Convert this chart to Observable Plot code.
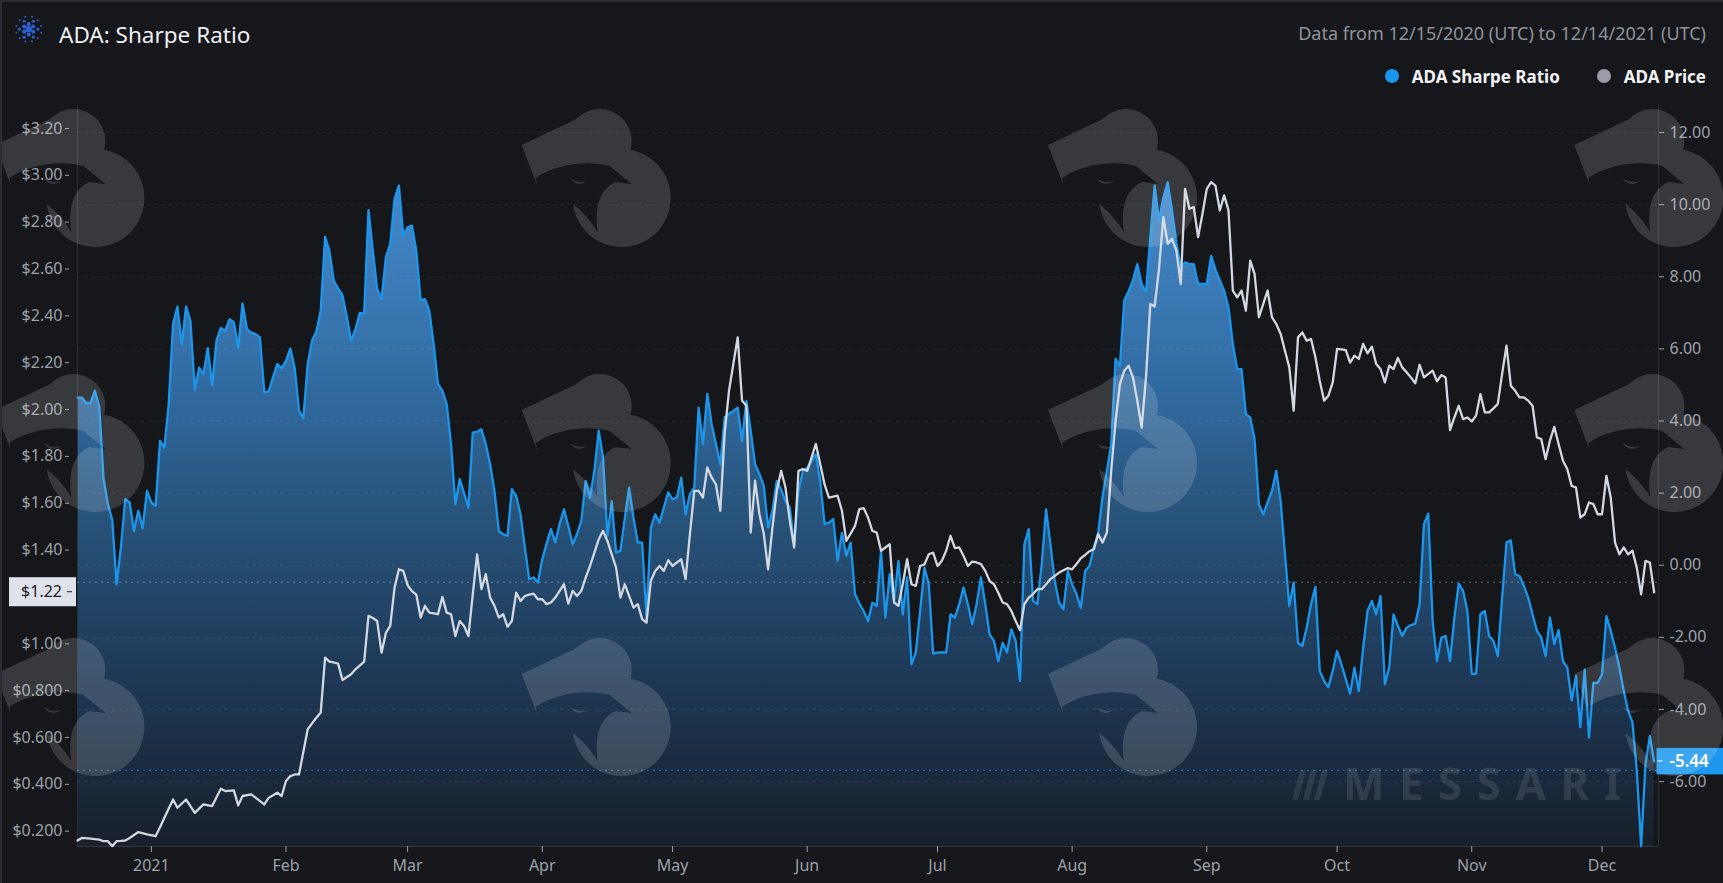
<!DOCTYPE html>
<html>
<head>
<meta charset="utf-8">
<script src="https://cdn.jsdelivr.net/npm/d3@7"></script>
<script src="https://cdn.jsdelivr.net/npm/@observablehq/plot@0.6"></script>
<style>
  html, body { margin:0; padding:0; background:#16171b; }
  #wrap { position:relative; width:1723px; height:883px; overflow:hidden; background:#16171b; font-family:"Noto Sans", sans-serif; }
  #edge { position:absolute; left:0; top:0; width:1723px; height:883px; box-sizing:border-box; border-top:2px solid #2b2d33; border-left:2px solid #2b2d33; pointer-events:none; }
  #header { position:relative; height:100px; }
  #icon { position:absolute; left:0; top:0; }
  #title { position:absolute; left:59px; top:21px; font-size:22.5px; line-height:28px; color:#eef0f4; white-space:nowrap; }
  #range { position:absolute; right:17px; top:22px; font-size:18px; line-height:22px; color:#8f939c; white-space:nowrap; }
  #legend { position:absolute; right:17px; top:64px; height:24px; display:flex; align-items:center; font-size:17px; font-weight:700; color:#f2f3f6; white-space:nowrap; }
  .item { display:flex; align-items:center; }
  .item + .item { margin-left:37px; }
  .dot { width:14px; height:14px; border-radius:50%; display:inline-block; margin-right:13px; }
  #chart { position:relative; height:783px; }
  #wm { position:absolute; left:0; top:0; pointer-events:none; }
</style>
</head>
<body>
<div id="wrap">
  <div id="header">
    <svg id="icon" width="60" height="60"></svg>
    <div id="title">ADA: Sharpe Ratio</div>
    <div id="range">Data from 12/15/2020 (UTC) to 12/14/2021 (UTC)</div>
    <div id="legend">
      <div class="item"><span class="dot" style="background:#1a96ec"></span>ADA Sharpe Ratio</div>
      <div class="item"><span class="dot" style="background:#9a9ca8"></span>ADA Price</div>
    </div>
  </div>
  <div id="chart"></div>
  <svg id="wm" width="1723" height="883"></svg>
  <div id="edge"></div>
</div>
<script>
// ---------------- data ----------------
const sharpeDates = [
"2020-12-15","2020-12-16","2020-12-17","2020-12-18","2020-12-19","2020-12-20","2020-12-21","2020-12-22","2020-12-23","2020-12-24","2020-12-25","2020-12-26","2020-12-27","2020-12-28","2020-12-29","2020-12-30","2020-12-31",
"2021-01-01","2021-01-02","2021-01-03","2021-01-04","2021-01-05","2021-01-06","2021-01-07","2021-01-08","2021-01-09","2021-01-10","2021-01-11","2021-01-12","2021-01-13","2021-01-14","2021-01-15","2021-01-16","2021-01-17","2021-01-18","2021-01-19","2021-01-20","2021-01-21","2021-01-22","2021-01-23","2021-01-24","2021-01-25","2021-01-26","2021-01-27","2021-01-28","2021-01-29","2021-01-30","2021-01-31",
"2021-02-01","2021-02-02","2021-02-03","2021-02-04","2021-02-05","2021-02-06","2021-02-07","2021-02-08","2021-02-09","2021-02-10","2021-02-11","2021-02-12","2021-02-13","2021-02-14","2021-02-15","2021-02-16","2021-02-17","2021-02-18","2021-02-19","2021-02-20","2021-02-21","2021-02-22","2021-02-23","2021-02-24","2021-02-25","2021-02-26","2021-02-27","2021-02-28",
"2021-03-01","2021-03-02","2021-03-03","2021-03-04","2021-03-05","2021-03-06","2021-03-07","2021-03-08","2021-03-09","2021-03-10","2021-03-11","2021-03-12","2021-03-13","2021-03-14","2021-03-15","2021-03-16","2021-03-17","2021-03-18","2021-03-19","2021-03-20","2021-03-21","2021-03-22","2021-03-23","2021-03-24","2021-03-25","2021-03-26","2021-03-27","2021-03-28","2021-03-29","2021-03-30","2021-03-31",
"2021-04-01","2021-04-02","2021-04-03","2021-04-04","2021-04-05","2021-04-06","2021-04-07","2021-04-08","2021-04-09","2021-04-10","2021-04-11","2021-04-12","2021-04-13","2021-04-14","2021-04-15","2021-04-16","2021-04-17","2021-04-18","2021-04-19","2021-04-20","2021-04-21","2021-04-22","2021-04-23","2021-04-24","2021-04-25","2021-04-26","2021-04-27","2021-04-28","2021-04-29","2021-04-30",
"2021-05-01","2021-05-02","2021-05-03","2021-05-04","2021-05-05","2021-05-06","2021-05-07","2021-05-08","2021-05-09","2021-05-10","2021-05-11","2021-05-12","2021-05-13","2021-05-14","2021-05-15","2021-05-16","2021-05-17","2021-05-18","2021-05-19","2021-05-20","2021-05-21","2021-05-22","2021-05-23","2021-05-24","2021-05-25","2021-05-26","2021-05-27","2021-05-28","2021-05-29","2021-05-30","2021-05-31",
"2021-06-01","2021-06-02","2021-06-03","2021-06-04","2021-06-05","2021-06-06","2021-06-07","2021-06-08","2021-06-09","2021-06-10","2021-06-11","2021-06-12","2021-06-13","2021-06-14","2021-06-15","2021-06-16","2021-06-17","2021-06-18","2021-06-19","2021-06-20","2021-06-21","2021-06-22","2021-06-23","2021-06-24","2021-06-25","2021-06-26","2021-06-27","2021-06-28","2021-06-29","2021-06-30",
"2021-07-01","2021-07-02","2021-07-03","2021-07-04","2021-07-05","2021-07-06","2021-07-07","2021-07-08","2021-07-09","2021-07-10","2021-07-11","2021-07-12","2021-07-13","2021-07-14","2021-07-15","2021-07-16","2021-07-17","2021-07-18","2021-07-19","2021-07-20","2021-07-21","2021-07-22","2021-07-23","2021-07-24","2021-07-25","2021-07-26","2021-07-27","2021-07-28","2021-07-29","2021-07-30","2021-07-31",
"2021-08-01","2021-08-02","2021-08-03","2021-08-04","2021-08-05","2021-08-06","2021-08-07","2021-08-08","2021-08-09","2021-08-10","2021-08-11","2021-08-12","2021-08-13","2021-08-14","2021-08-15","2021-08-16","2021-08-17","2021-08-18","2021-08-19","2021-08-20","2021-08-21","2021-08-22","2021-08-23","2021-08-24","2021-08-25","2021-08-26","2021-08-27","2021-08-28","2021-08-29","2021-08-30","2021-08-31",
"2021-09-01","2021-09-02","2021-09-03","2021-09-04","2021-09-05","2021-09-06","2021-09-07","2021-09-08","2021-09-09","2021-09-10","2021-09-11","2021-09-12","2021-09-13","2021-09-14","2021-09-15","2021-09-16","2021-09-17","2021-09-18","2021-09-19","2021-09-20","2021-09-21","2021-09-22","2021-09-23","2021-09-24","2021-09-25","2021-09-26","2021-09-27","2021-09-28","2021-09-29","2021-09-30",
"2021-10-01","2021-10-02","2021-10-03","2021-10-04","2021-10-05","2021-10-06","2021-10-07","2021-10-08","2021-10-09","2021-10-10","2021-10-11","2021-10-12","2021-10-13","2021-10-14","2021-10-15","2021-10-16","2021-10-17","2021-10-18","2021-10-19","2021-10-20","2021-10-21","2021-10-22","2021-10-23","2021-10-24","2021-10-25","2021-10-26","2021-10-27","2021-10-28","2021-10-29","2021-10-30","2021-10-31",
"2021-11-01","2021-11-02","2021-11-03","2021-11-04","2021-11-05","2021-11-06","2021-11-07","2021-11-08","2021-11-09","2021-11-10","2021-11-11","2021-11-12","2021-11-13","2021-11-14","2021-11-15","2021-11-16","2021-11-17","2021-11-18","2021-11-19","2021-11-20","2021-11-21","2021-11-22","2021-11-23","2021-11-24","2021-11-25","2021-11-26","2021-11-27","2021-11-28","2021-11-29","2021-11-30",
"2021-12-01","2021-12-02","2021-12-03","2021-12-04","2021-12-05","2021-12-06","2021-12-07","2021-12-08","2021-12-09","2021-12-10","2021-12-11","2021-12-12","2021-12-13"
];
const sharpeValues = [
4.65,4.65,4.50,4.50,4.84,4.40,2.40,1.70,1.25,-0.53,0.50,1.83,1.74,0.95,1.51,1.03,2.06,
1.74,1.65,3.45,3.26,4.47,6.69,7.17,6.13,7.17,6.78,4.88,5.48,5.30,6.02,4.98,6.23,6.58,6.50,6.82,6.74,6.02,7.26,6.55,6.45,6.41,6.32,4.81,4.81,5.21,5.58,5.46,
5.67,6.01,5.48,4.28,4.08,5.58,6.23,6.48,7.06,9.11,8.72,7.89,7.68,7.49,6.90,6.23,6.55,7.00,6.98,9.85,8.72,7.66,7.38,8.54,8.91,10.16,10.53,9.14,
9.37,9.42,8.72,7.35,7.38,7.06,6.13,5.02,4.84,4.47,3.36,1.69,2.39,2.00,1.60,3.68,3.70,3.77,3.36,2.80,2.06,0.95,0.86,0.81,2.11,1.92,1.41,0.49,-0.39,-0.34,-0.48,
0.17,0.60,1.00,0.63,1.14,1.55,1.09,0.58,0.86,1.23,2.34,1.88,2.62,3.73,2.99,0.81,1.78,0.35,0.40,1.30,2.15,1.32,0.63,0.63,-1.45,1.04,1.41,1.18,1.60,2.02,
1.83,1.88,2.43,1.41,1.97,2.15,4.37,3.36,4.75,3.91,3.36,2.80,4.10,4.20,4.28,4.37,3.45,4.56,3.73,2.80,2.53,2.20,1.04,1.51,2.34,2.10,1.78,1.60,0.58,2.06,2.62,
2.70,2.89,3.08,2.34,1.14,1.18,1.28,0.12,0.90,0.26,0.63,-0.80,-1.06,-1.27,-1.55,-1.04,-1.13,0.40,-1.45,-0.25,-0.99,0.12,-1.36,-0.34,-2.75,-2.42,-1.27,-0.07,-0.53,-2.45,
-2.42,-2.42,-2.42,-1.36,-1.45,-1.08,-0.62,-1.08,-1.64,-1.08,-0.34,-1.08,-1.92,-2.10,-2.66,-2.15,-2.42,-1.78,-2.10,-3.21,0.58,1.00,-0.99,-1.08,0.03,1.55,0.58,-0.44,-1.04,-1.22,-0.16,
-0.53,-0.80,-1.18,-0.16,-0.02,0.49,0.90,1.90,2.62,3.36,5.72,5.53,7.34,7.60,7.90,8.35,7.80,7.57,9.09,10.53,9.56,10.20,10.62,9.83,8.95,8.26,8.40,8.35,8.35,7.80,7.80,
7.80,8.58,8.20,7.90,7.61,7.15,6.13,5.44,5.44,4.19,4.10,3.50,1.69,1.41,1.74,2.06,2.62,1.78,0.31,-1.13,-0.48,-2.15,-2.24,-1.73,-1.08,-0.60,-2.93,-3.21,-3.38,-2.93,
-2.38,-2.75,-3.16,-3.56,-2.84,-3.49,-2.29,-1.27,-0.99,-1.36,-0.85,-3.30,-2.84,-1.36,-1.68,-1.96,-1.73,-1.66,-1.62,-1.08,1.14,1.43,-1.55,-2.66,-2.01,-1.96,-2.66,-1.45,-0.51,-0.71,-1.27,
-3.01,-3.01,-1.36,-1.27,-1.96,-2.10,-2.52,-0.90,0.63,0.69,-0.25,-0.30,-0.57,-0.90,-1.36,-1.82,-2.01,-2.52,-1.45,-2.19,-1.80,-2.66,-2.84,-3.75,-3.07,-4.49,-2.89,-4.78,-3.26,-3.26,
-3.03,-1.41,-1.82,-2.29,-2.84,-3.49,-4.04,-4.36,-5.70,-7.79,-5.52,-4.74,-5.44
];

const priceDates = [
"2020-12-15","2020-12-16","2020-12-18","2020-12-20","2020-12-21","2020-12-22","2020-12-23","2020-12-24","2020-12-25","2020-12-26","2020-12-27","2020-12-29","2020-12-31",
"2021-01-02","2021-01-03","2021-01-04","2021-01-06","2021-01-07","2021-01-09","2021-01-10","2021-01-11","2021-01-13","2021-01-15","2021-01-17","2021-01-18","2021-01-20","2021-01-21","2021-01-22","2021-01-24","2021-01-25","2021-01-27","2021-01-28","2021-01-30","2021-01-31",
"2021-02-01","2021-02-02","2021-02-03","2021-02-04","2021-02-06","2021-02-07","2021-02-08","2021-02-09","2021-02-10","2021-02-11","2021-02-12","2021-02-13","2021-02-14","2021-02-16","2021-02-17","2021-02-19","2021-02-20","2021-02-21","2021-02-22","2021-02-23","2021-02-24","2021-02-25","2021-02-26","2021-02-27","2021-02-28",
"2021-03-01","2021-03-02","2021-03-03","2021-03-04","2021-03-05","2021-03-06","2021-03-07","2021-03-08","2021-03-09","2021-03-10","2021-03-11","2021-03-12","2021-03-13","2021-03-14","2021-03-15","2021-03-16","2021-03-17","2021-03-18","2021-03-19","2021-03-20","2021-03-21","2021-03-22","2021-03-23","2021-03-24","2021-03-25","2021-03-26","2021-03-27","2021-03-28","2021-03-29","2021-03-30","2021-03-31",
"2021-04-01","2021-04-02","2021-04-03","2021-04-04","2021-04-05","2021-04-06","2021-04-07","2021-04-08","2021-04-09","2021-04-10","2021-04-11","2021-04-12","2021-04-13","2021-04-14","2021-04-15","2021-04-16","2021-04-17","2021-04-18","2021-04-19","2021-04-20","2021-04-21","2021-04-22","2021-04-23","2021-04-24","2021-04-25","2021-04-26","2021-04-27","2021-04-28","2021-04-29","2021-04-30",
"2021-05-01","2021-05-02","2021-05-03","2021-05-04","2021-05-05","2021-05-06","2021-05-07","2021-05-08","2021-05-09","2021-05-10","2021-05-11","2021-05-12","2021-05-13","2021-05-14","2021-05-15","2021-05-16","2021-05-17","2021-05-18","2021-05-19","2021-05-20","2021-05-21","2021-05-22","2021-05-23","2021-05-24","2021-05-25","2021-05-26","2021-05-27","2021-05-28","2021-05-29","2021-05-30","2021-05-31",
"2021-06-01","2021-06-02","2021-06-03","2021-06-04","2021-06-05","2021-06-06","2021-06-07","2021-06-08","2021-06-09","2021-06-10","2021-06-11","2021-06-12","2021-06-13","2021-06-14","2021-06-15","2021-06-16","2021-06-17","2021-06-18","2021-06-19","2021-06-20","2021-06-21","2021-06-22","2021-06-23","2021-06-24","2021-06-25","2021-06-26","2021-06-27","2021-06-28","2021-06-29","2021-06-30",
"2021-07-01","2021-07-02","2021-07-03","2021-07-04","2021-07-05","2021-07-06","2021-07-07","2021-07-08","2021-07-09","2021-07-10","2021-07-11","2021-07-12","2021-07-13","2021-07-14","2021-07-15","2021-07-16","2021-07-17","2021-07-18","2021-07-19","2021-07-20","2021-07-21","2021-07-22","2021-07-23","2021-07-24","2021-07-25","2021-07-26","2021-07-27","2021-07-28","2021-07-29","2021-07-30","2021-07-31",
"2021-08-01","2021-08-02","2021-08-03","2021-08-04","2021-08-05","2021-08-06","2021-08-07","2021-08-08","2021-08-09","2021-08-10","2021-08-11","2021-08-12","2021-08-13","2021-08-14","2021-08-15","2021-08-16","2021-08-17","2021-08-18","2021-08-19","2021-08-20","2021-08-21","2021-08-22","2021-08-23","2021-08-24","2021-08-25","2021-08-26","2021-08-27","2021-08-28","2021-08-29","2021-08-30","2021-08-31",
"2021-09-01","2021-09-02","2021-09-03","2021-09-04","2021-09-05","2021-09-06","2021-09-07","2021-09-08","2021-09-09","2021-09-10","2021-09-11","2021-09-12","2021-09-13","2021-09-14","2021-09-15","2021-09-16","2021-09-17","2021-09-18","2021-09-19","2021-09-20","2021-09-21","2021-09-22","2021-09-23","2021-09-24","2021-09-25","2021-09-26","2021-09-27","2021-09-28","2021-09-29","2021-09-30",
"2021-10-01","2021-10-02","2021-10-03","2021-10-04","2021-10-05","2021-10-06","2021-10-07","2021-10-08","2021-10-09","2021-10-10","2021-10-11","2021-10-12","2021-10-13","2021-10-14","2021-10-15","2021-10-16","2021-10-17","2021-10-18","2021-10-19","2021-10-20","2021-10-21","2021-10-22","2021-10-23","2021-10-24","2021-10-25","2021-10-26","2021-10-27","2021-10-28","2021-10-29","2021-10-30","2021-10-31",
"2021-11-01","2021-11-02","2021-11-03","2021-11-04","2021-11-05","2021-11-06","2021-11-07","2021-11-08","2021-11-09","2021-11-10","2021-11-11","2021-11-12","2021-11-13","2021-11-14","2021-11-15","2021-11-16","2021-11-17","2021-11-18","2021-11-19","2021-11-20","2021-11-21","2021-11-22","2021-11-23","2021-11-24","2021-11-25","2021-11-26","2021-11-27","2021-11-28","2021-11-29","2021-11-30",
"2021-12-01","2021-12-02","2021-12-03","2021-12-04","2021-12-05","2021-12-06","2021-12-07","2021-12-08","2021-12-09","2021-12-10","2021-12-11","2021-12-12","2021-12-13"
];
const priceValues = [
0.160,0.171,0.168,0.164,0.157,0.157,0.136,0.157,0.158,0.160,0.171,0.196,0.186,
0.179,0.217,0.257,0.335,0.300,0.335,0.307,0.278,0.314,0.307,0.381,0.371,0.374,0.310,0.350,0.357,0.343,0.314,0.342,0.364,0.350,
0.414,0.435,0.442,0.442,0.635,0.660,0.684,0.706,0.941,0.924,0.920,0.915,0.845,0.870,0.891,0.924,1.119,1.110,1.097,0.962,1.047,1.076,1.240,1.318,1.311,
1.250,1.225,1.210,1.112,1.162,1.133,1.130,1.126,1.200,1.133,1.126,1.033,1.097,1.076,1.033,1.210,1.382,1.233,1.297,1.197,1.162,1.112,1.126,1.072,1.097,1.218,1.183,1.204,1.210,1.214,1.190,
1.190,1.169,1.176,1.197,1.226,1.254,1.171,1.226,1.204,1.226,1.282,1.332,1.389,1.446,1.482,1.439,1.382,1.325,1.197,1.254,1.204,1.154,1.169,1.105,1.090,1.268,1.311,1.332,1.311,1.357,
1.332,1.347,1.361,1.276,1.468,1.653,1.653,1.624,1.753,1.710,1.680,1.568,1.900,2.080,2.195,2.308,2.038,2.016,1.475,1.696,1.553,1.470,1.318,1.496,1.653,1.738,1.667,1.525,1.411,1.738,1.746,
1.738,1.795,1.853,1.767,1.680,1.624,1.628,1.632,1.568,1.439,1.470,1.503,1.575,1.579,1.539,1.482,1.475,1.397,1.411,1.425,1.176,1.162,1.254,1.361,1.254,1.247,1.332,1.339,1.382,1.389,
1.332,1.354,1.397,1.461,1.408,1.411,1.375,1.332,1.351,1.347,1.340,1.311,1.268,1.254,1.218,1.176,1.169,1.140,1.097,1.058,1.169,1.197,1.212,1.233,1.233,1.254,1.276,1.290,1.304,1.314,1.323,
1.318,1.340,1.365,1.379,1.395,1.404,1.468,1.432,1.475,1.740,1.950,2.109,2.166,2.187,2.137,2.038,1.923,2.137,2.451,2.440,2.600,2.821,2.707,2.729,2.679,2.536,2.942,2.857,2.864,2.736,2.835,
2.942,2.971,2.956,2.850,2.914,2.850,2.508,2.479,2.508,2.422,2.636,2.579,2.394,2.451,2.508,2.394,2.365,2.323,2.251,2.180,1.995,2.308,2.329,2.294,2.301,2.223,2.123,2.038,2.059,2.116,
2.259,2.257,2.254,2.200,2.230,2.216,2.280,2.240,2.268,2.194,2.173,2.116,2.187,2.173,2.220,2.180,2.159,2.137,2.112,2.191,2.137,2.152,2.166,2.120,2.147,2.137,1.912,1.966,2.016,1.959,1.966,
1.949,1.974,2.066,1.988,1.988,2.005,2.024,2.152,2.273,2.102,2.080,2.052,2.052,2.038,2.016,1.881,1.874,1.788,1.867,1.926,1.853,1.781,1.746,1.674,1.667,1.539,1.553,1.603,1.596,1.553,
1.553,1.717,1.624,1.432,1.382,1.411,1.382,1.397,1.325,1.211,1.354,1.347,1.220
];

const monthDates = ["2021-01-01","2021-02-01","2021-03-01","2021-04-01","2021-05-01","2021-06-01","2021-07-01","2021-08-01","2021-09-01","2021-10-01","2021-11-01","2021-12-01"];
const monthLabels = ["2021","Feb","Mar","Apr","May","Jun","Jul","Aug","Sep","Oct","Nov","Dec"];
const priceTicks = [0.2,0.4,0.6,0.8,1.0,1.2,1.4,1.6,1.8,2.0,2.2,2.4,2.6,2.8,3.0,3.2];
const sharpeTicks = [-6,-4,-2,0,2,4,6,8,10,12];

// ---------------- scales setup ----------------
const parse = d3.utcParse("%Y-%m-%d");
const sharpe = sharpeDates.map((d, i) => ({date: parse(d), value: sharpeValues[i]}));
const price = priceDates.map((d, i) => ({date: parse(d), value: priceValues[i]}));
const xDomain = [parse("2020-12-15"), parse("2021-12-14")];
const yDomain = [-7.80, 12.75];          // sharpe ratio (right axis)
const priceDomain = [0.1344, 3.298];     // ADA price (left axis), same pixel span
const toS = d3.scaleLinear().domain(priceDomain).range(yDomain);
const lastPrice = priceValues[priceValues.length - 1];
const lastSharpe = sharpeValues[sharpeValues.length - 1];
const fmtPrice = p => { p = Math.round(p * 1000) / 1000; return "$" + (p < 1 ? p.toFixed(3) : p.toFixed(2)); };
// the last-price tag covers the tick label right behind it (as in the reference)
const shownPriceTicks = priceTicks.filter(p => Math.abs(toS(p) - toS(lastPrice)) > 0.45);

const gradientDefs = () => {
  const defs = d3.create("svg:defs");
  const g = defs.append("linearGradient").attr("id", "sharpeFill")
    .attr("gradientUnits", "userSpaceOnUse").attr("x1", 0).attr("x2", 0).attr("y1", 5).attr("y2", 746);
  [[0, "#4b91d2"], [0.2, "#3e7fbd"], [0.4, "#30689d"], [0.53, "#29567f"], [0.74, "#1f3c5b"], [0.9, "#1a2a3e"], [1, "#182029"]]
    .forEach(([o, c]) => g.append("stop").attr("offset", o).attr("stop-color", c));
  return defs.node();
};

const valueTags = (index, scales, values, dimensions) => {
  const g = d3.create("svg:g").attr("font-family", "Noto Sans, sans-serif").attr("font-size", 16);
  const {width, marginLeft, marginRight} = dimensions;
  const yP = scales.y(toS(lastPrice));
  const yS = scales.y(lastSharpe);
  // left tag (price)
  g.append("rect").attr("x", 9).attr("y", yP - 14.5).attr("width", marginLeft - 10).attr("height", 29).attr("fill", "#dfe2ea");
  g.append("line").attr("x1", 67).attr("x2", 72).attr("y1", yP).attr("y2", yP).attr("stroke", "#1c1e24");
  g.append("text").attr("x", 62).attr("y", yP).attr("dy", "0.35em").attr("text-anchor", "end")
    .attr("fill", "#1c1e24").text("$" + lastPrice.toFixed(2));
  // right tag (sharpe)
  const xr = width - marginRight - 1.5;
  g.append("rect").attr("x", xr).attr("y", yS - 13).attr("width", width - xr).attr("height", 26.5).attr("fill", "#1c97ee");
  g.append("line").attr("x1", xr + 1).attr("x2", xr + 6).attr("y1", yS).attr("y2", yS).attr("stroke", "#ffffff");
  g.append("text").attr("x", xr + 13).attr("y", yS).attr("dy", "0.35em").attr("text-anchor", "start").attr("fill", "#ffffff")
    .attr("font-size", 17).attr("font-weight", 600).text(lastSharpe.toFixed(2));
  return g.node();
};

const chart = Plot.plot({
  width: 1723, height: 783,
  marginTop: 5, marginBottom: 37, marginLeft: 77, marginRight: 65,
  style: {background: "transparent", fontFamily: "Noto Sans, sans-serif", fontSize: "16px", color: "#9da1a9", overflow: "visible"},
  x: {type: "utc", domain: xDomain, axis: null},
  y: {domain: yDomain, axis: null},
  marks: [
    gradientDefs,
    Plot.areaY(sharpe, {x: "date", y1: yDomain[0], y2: "value", fill: "url(#sharpeFill)"}),
    Plot.ruleY(sharpeTicks, {stroke: "#ffffff", strokeOpacity: 0.07, strokeDasharray: "4,3"}),
    Plot.ruleY([yDomain[0]], {stroke: "#35383f"}),
    Plot.ruleX(xDomain, {stroke: "#2c2f35"}),
    Plot.ruleY([toS(lastPrice)], {dy: -10, stroke: "#a9b6c6", strokeOpacity: 0.55, strokeDasharray: "2,4"}),
    Plot.ruleY([lastSharpe], {dy: 9, stroke: "#2a95e0", strokeOpacity: 0.75, strokeDasharray: "2,4"}),
    Plot.lineY(sharpe, {x: "date", y: "value", stroke: "#1a96ec", strokeWidth: 2.3}),
    Plot.lineY(price, {x: "date", y: d => toS(d.value), stroke: "#d3d7e0", strokeWidth: 2.3}),
    Plot.axisX(monthDates.map(parse), {label: null, tickSize: 6, tickPadding: 7, tickFormat: d => monthLabels[d.getUTCMonth()], color: "#9da1a9", fontSize: 16}),
    Plot.axisY(shownPriceTicks.map(p => toS(p)), {label: null, anchor: "left", dx: -8, tickSize: 4, tickPadding: 3, tickFormat: s => fmtPrice(toS.invert(s)), color: "#9da1a9", fontSize: 16}),
    Plot.axisY(sharpeTicks, {label: null, anchor: "right", tickSize: 5, tickPadding: 6, tickFormat: d => d.toFixed(2), color: "#9da1a9", fontSize: 16}),
    valueTags
  ]
});
document.getElementById("chart").appendChild(chart);

// ---------------- decoration: Cardano icon ----------------
(function () {
  const svg = d3.select("#icon");
  const cx = 28.7, cy = 29.2;
  const rings = [[0, 1, 3.2, "#2b5fd6"], [5.2, 6, 2.0, "#2f63d8"], [9.2, 6, 1.6, "#2d5bc9"], [12.8, 12, 1.0, "#3560c8"]];
  rings.forEach(([r, n, s, c], k) => {
    for (let i = 0; i < n; i++) {
      const a = (i / n) * 2 * Math.PI + (k % 2 ? Math.PI / n : 0);
      svg.append("circle").attr("cx", cx + r * Math.cos(a)).attr("cy", cy + r * Math.sin(a)).attr("r", s).attr("fill", c);
    }
  });
})();

// ---------------- decoration: Messari watermark ----------------
(function () {
  const svg = d3.select("#wm");
  const defs = svg.append("defs");
  const mask = defs.append("mask").attr("id", "eagle").attr("maskUnits", "userSpaceOnUse")
    .attr("x", -20).attr("y", -20).attr("width", 200).attr("height", 200);
  mask.append("rect").attr("x", -20).attr("y", -20).attr("width", 200).attr("height", 200).attr("fill", "#fff");
  mask.append("path").attr("fill", "#000")
    .attr("d", "M14,70 C34,56 66,52 88,58 L110,76 L94,74 C80,80 72,96 76,124 C62,102 44,86 16,80 Z");
  const logo = defs.append("g").attr("id", "bird");
  const body = logo.append("g").attr("mask", "url(#eagle)");
  body.append("path").attr("d", "M0,37 L74,2 L96,42 L15,76 Z").attr("fill", "#fff");
  body.append("circle").attr("cx", 78).attr("cy", 33).attr("r", 32).attr("fill", "#fff");
  body.append("circle").attr("cx", 100).attr("cy", 90).attr("r", 49).attr("fill", "#fff");
  logo.append("path").attr("d", "M48,70 Q56,80 66,73 Q57,76 48,70 Z").attr("fill", "#fff");
  const cols = [-4.6, 521.7, 1048, 1574.3], rows = [108, 373, 637];
  const layer = svg.append("g").attr("opacity", 0.15);
  rows.forEach(y => cols.forEach(x => layer.append("use").attr("href", "#bird").attr("x", x).attr("y", y)));
  svg.append("text").attr("x", 1343).attr("y", 800).attr("font-family", "Noto Sans, sans-serif")
    .attr("font-size", 44).attr("font-weight", 700).attr("textLength", 278).attr("lengthAdjust", "spacing")
    .attr("fill", "#ffffff").attr("fill-opacity", 0.1).text("MESSARI");
  const mark = svg.append("g").attr("fill", "#ffffff").attr("fill-opacity", 0.09);
  [0, 11, 22].forEach(o => mark.append("path").attr("d", `M${1292 + o},800 L${1300 + o},770 L${1306 + o},770 L${1298 + o},800 Z`));
})();
</script>
</body>
</html>
